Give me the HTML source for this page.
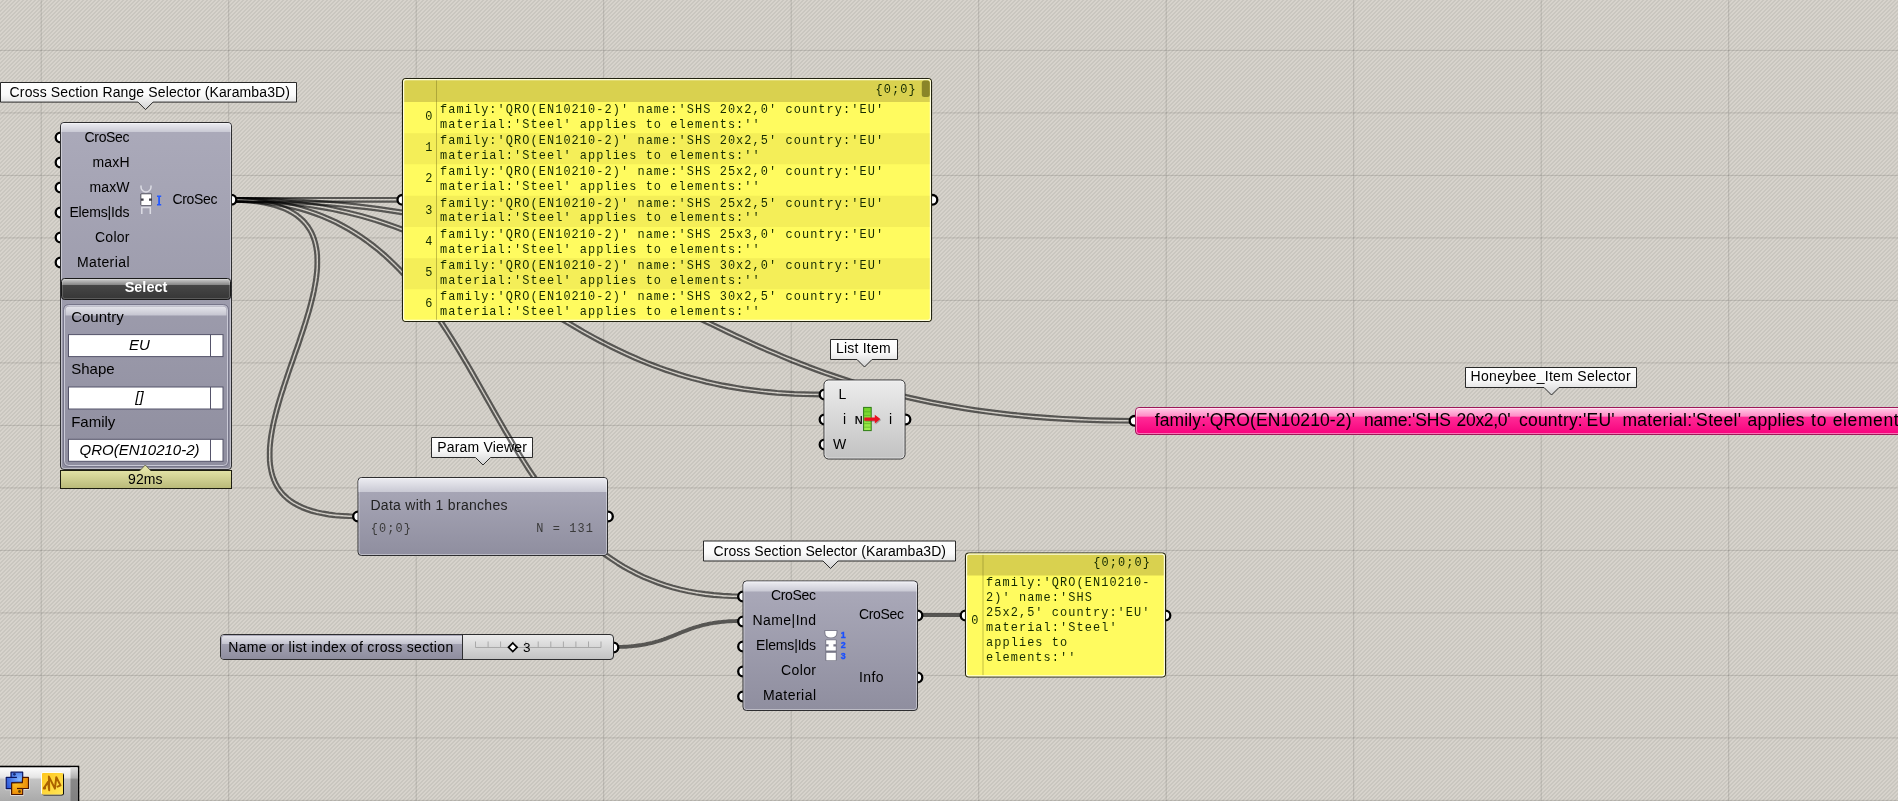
<!DOCTYPE html>
<html><head><meta charset="utf-8"><title>Grasshopper canvas</title>
<style>html,body{margin:0;padding:0;background:#d4d0c8;overflow:hidden}svg{display:block;will-change:transform}text{white-space:pre}</style>
</head><body>
<svg width="1898" height="801" viewBox="0 0 1898 801">
<defs>
<pattern id="hatch" width="4" height="4" patternUnits="userSpaceOnUse">
<rect width="4" height="4" fill="#d7d3cc"/>
<g fill="#c9c6bf" shape-rendering="crispEdges">
<rect x="2" y="0" width="2" height="1"/><rect x="1" y="1" width="2" height="1"/><rect x="0" y="2" width="2" height="1"/><rect x="3" y="3" width="1" height="1"/><rect x="0" y="3" width="1" height="1"/>
</g></pattern>
<linearGradient id="gLabel" x1="0" y1="0" x2="0" y2="1"><stop offset="0" stop-color="#fff"/><stop offset="0.45" stop-color="#fafafa"/><stop offset="1" stop-color="#d2d2d2"/></linearGradient>
<linearGradient id="gBlue" x1="0" y1="0" x2="0" y2="1"><stop offset="0" stop-color="#abaaba"/><stop offset="1" stop-color="#8f8e9f"/></linearGradient>
<linearGradient id="gBand" x1="0" y1="0" x2="0" y2="1"><stop offset="0" stop-color="#ededf2"/><stop offset="1" stop-color="#c9c9d4"/></linearGradient>
<linearGradient id="gGrey" x1="0" y1="0" x2="0" y2="1"><stop offset="0" stop-color="#ececec"/><stop offset="1" stop-color="#c2c2c2"/></linearGradient>
<linearGradient id="gDark" x1="0" y1="0" x2="0" y2="1"><stop offset="0" stop-color="#d4d4d4"/><stop offset="0.29" stop-color="#8a8a8a"/><stop offset="0.32" stop-color="#464646"/><stop offset="1" stop-color="#363636"/></linearGradient>
<linearGradient id="gPink" x1="0" y1="0" x2="0" y2="1"><stop offset="0" stop-color="#ffd0e8"/><stop offset="0.32" stop-color="#ff8cc6"/><stop offset="0.36" stop-color="#ff2a96"/><stop offset="1" stop-color="#f7007c"/></linearGradient>
<linearGradient id="gGreen" x1="0" y1="0" x2="0" y2="1"><stop offset="0" stop-color="#6fd026"/><stop offset="1" stop-color="#a2ee4e"/></linearGradient>
<radialGradient id="gPyB" cx="0.8" cy="0.45" r="0.9"><stop offset="0" stop-color="#82b6ff"/><stop offset="1" stop-color="#2550d6"/></radialGradient>
<radialGradient id="gPyO" cx="0.25" cy="0.3" r="0.9"><stop offset="0" stop-color="#ffc524"/><stop offset="1" stop-color="#e67c00"/></radialGradient>
<linearGradient id="gSk" x1="0" y1="0" x2="1" y2="1"><stop offset="0" stop-color="#ffc61c"/><stop offset="1" stop-color="#ffe75a"/></linearGradient>
<linearGradient id="gProf" x1="0" y1="0" x2="0" y2="1"><stop offset="0" stop-color="#e2e2a6"/><stop offset="1" stop-color="#b9b978"/></linearGradient>
<linearGradient id="gTool" x1="0" y1="0" x2="0" y2="1"><stop offset="0" stop-color="#fff"/><stop offset="0.3" stop-color="#e6e6e6"/><stop offset="0.36" stop-color="#c4c4c4"/><stop offset="1" stop-color="#a8a8a8"/></linearGradient>
<linearGradient id="gTool2" x1="0" y1="0" x2="0" y2="1"><stop offset="0" stop-color="#e0e0e0"/><stop offset="0.3" stop-color="#b0b0b0"/><stop offset="0.36" stop-color="#888"/><stop offset="1" stop-color="#808080"/></linearGradient>
</defs>
<rect width="1898" height="801" fill="url(#hatch)"/>

<g fill="#000" fill-opacity="0.13"><rect x="40.70" y="0" width="1" height="801"/><rect x="228.20" y="0" width="1" height="801"/><rect x="415.70" y="0" width="1" height="801"/><rect x="603.20" y="0" width="1" height="801"/><rect x="790.70" y="0" width="1" height="801"/><rect x="978.20" y="0" width="1" height="801"/><rect x="1165.70" y="0" width="1" height="801"/><rect x="1353.20" y="0" width="1" height="801"/><rect x="1540.70" y="0" width="1" height="801"/><rect x="1728.20" y="0" width="1" height="801"/><rect x="0" y="49.90" width="1898" height="1"/><rect x="0" y="112.40" width="1898" height="1"/><rect x="0" y="174.90" width="1898" height="1"/><rect x="0" y="237.40" width="1898" height="1"/><rect x="0" y="299.90" width="1898" height="1"/><rect x="0" y="362.40" width="1898" height="1"/><rect x="0" y="424.90" width="1898" height="1"/><rect x="0" y="487.40" width="1898" height="1"/><rect x="0" y="549.90" width="1898" height="1"/><rect x="0" y="612.40" width="1898" height="1"/><rect x="0" y="674.90" width="1898" height="1"/><rect x="0" y="737.40" width="1898" height="1"/><rect x="0" y="799.90" width="1898" height="1"/></g>
<path d="M0.5 82.5H296.5V102.1H153.0L145.5 109.6L138.0 102.1H0.5Z" fill="url(#gLabel)" stroke="#2a2a2a" stroke-width="1"/>
<text x="9.6" y="96.7" font-size="14" text-anchor="start" fill="#000" font-family="Liberation Sans, sans-serif" textLength="280.4" lengthAdjust="spacing" >Cross Section Range Selector (Karamba3D)</text>
<path d="M830.5 339.5H897.5V359.5H872.0L864.5 367L857.0 359.5H830.5Z" fill="url(#gLabel)" stroke="#2a2a2a" stroke-width="1"/>
<text x="836" y="353.3" font-size="14" text-anchor="start" fill="#000" font-family="Liberation Sans, sans-serif" textLength="54.6" lengthAdjust="spacing" >List Item</text>
<path d="M1465.5 367.5H1636.5V387.5H1559.0L1551.5 395L1544.0 387.5H1465.5Z" fill="url(#gLabel)" stroke="#2a2a2a" stroke-width="1"/>
<text x="1470.6" y="380.9" font-size="14" text-anchor="start" fill="#000" font-family="Liberation Sans, sans-serif" textLength="160.0" lengthAdjust="spacing" >Honeybee_Item Selector</text>
<path d="M431.5 437.5H532.5V457.5H490.5L483 465L475.5 457.5H431.5Z" fill="url(#gLabel)" stroke="#2a2a2a" stroke-width="1"/>
<text x="437.3" y="451.9" font-size="14" text-anchor="start" fill="#000" font-family="Liberation Sans, sans-serif" textLength="89.5" lengthAdjust="spacing" >Param Viewer</text>
<path d="M703.5 541.0H955.5V561.0H838.0L830.5 568.5L823.0 561.0H703.5Z" fill="url(#gLabel)" stroke="#2a2a2a" stroke-width="1"/>
<text x="713.5" y="555.6" font-size="14" text-anchor="start" fill="#000" font-family="Liberation Sans, sans-serif" textLength="232.5" lengthAdjust="spacing" >Cross Section Selector (Karamba3D)</text>
<path d="M232.0 198.0L402.0 198.0" fill="none" stroke="#000" stroke-opacity="0.58" stroke-width="2.2" stroke-linejoin="round"/>
<path d="M232.0 201.6L402.0 201.6" fill="none" stroke="#000" stroke-opacity="0.58" stroke-width="2.2" stroke-linejoin="round"/>
<path d="M232.0 198.0L241.4 198.1L250.6 198.3L259.6 198.6L268.5 199.1L277.1 199.7L285.6 200.5L294.0 201.4L302.1 202.4L310.1 203.5L318.0 204.7L325.7 206.0L333.2 207.5L340.6 209.1L347.9 210.7L355.0 212.5L362.0 214.3L368.9 216.3L375.7 218.3L382.3 220.5L388.9 222.7L395.3 225.0L401.6 227.3L407.8 229.8L413.9 232.3L420.0 234.9L425.9 237.5L431.8 240.2L437.6 243.0L443.3 245.8L448.9 248.7L454.5 251.6L460.0 254.6L465.4 257.6L470.8 260.6L476.2 263.7L481.5 266.8L486.8 269.9L492.0 273.1L497.2 276.3L502.4 279.5L507.5 282.7L512.6 285.9L517.8 289.1L522.9 292.4L528.0 295.6L533.1 298.9L538.2 302.1L543.3 305.3L548.4 308.6L553.5 311.8L558.7 315.0L563.9 318.1L569.1 321.3L574.3 324.4L579.6 327.5L584.9 330.6L590.3 333.6L595.7 336.6L601.2 339.5L606.8 342.4L612.4 345.3L618.0 348.1L623.8 350.8L629.6 353.5L635.5 356.1L641.5 358.7L647.5 361.2L653.7 363.6L660.0 366.0L666.3 368.2L672.8 370.4L679.4 372.5L686.1 374.6L692.9 376.5L699.9 378.3L706.9 380.1L714.1 381.7L721.5 383.3L729.0 384.7L736.6 386.0L744.4 387.3L752.3 388.4L760.4 389.4L768.7 390.2L777.1 391.0L785.8 391.6L794.5 392.1L803.5 392.4L812.7 392.6L822.0 392.7" fill="none" stroke="#000" stroke-opacity="0.58" stroke-width="2.2" stroke-linejoin="round"/>
<path d="M232.0 201.6L241.3 201.7L250.5 201.9L259.5 202.2L268.2 202.7L276.9 203.3L285.3 204.1L293.6 204.9L301.7 205.9L309.6 207.0L317.4 208.3L325.0 209.6L332.5 211.0L339.9 212.6L347.1 214.2L354.1 216.0L361.1 217.8L367.9 219.7L374.6 221.8L381.2 223.9L387.7 226.1L394.0 228.3L400.3 230.7L406.5 233.1L412.5 235.6L418.5 238.2L424.4 240.8L430.2 243.5L436.0 246.2L441.6 249.0L447.2 251.9L452.8 254.8L458.3 257.7L463.7 260.7L469.1 263.7L474.4 266.8L479.7 269.9L484.9 273.0L490.1 276.2L495.3 279.3L500.5 282.5L505.6 285.7L510.7 289.0L515.8 292.2L520.9 295.4L526.0 298.7L531.1 301.9L536.2 305.2L541.4 308.4L546.5 311.6L551.6 314.8L556.8 318.0L562.0 321.2L567.2 324.4L572.5 327.5L577.8 330.6L583.2 333.7L588.6 336.7L594.0 339.7L599.5 342.7L605.1 345.6L610.7 348.5L616.4 351.3L622.2 354.1L628.1 356.8L634.0 359.4L640.1 362.0L646.2 364.5L652.4 367.0L658.7 369.3L665.1 371.6L671.7 373.8L678.3 376.0L685.1 378.0L692.0 380.0L699.0 381.8L706.1 383.6L713.4 385.2L720.8 386.8L728.3 388.3L736.0 389.6L743.9 390.8L751.9 391.9L760.0 392.9L768.4 393.8L776.9 394.6L785.5 395.2L794.4 395.7L803.4 396.0L812.6 396.2L822.0 396.3" fill="none" stroke="#000" stroke-opacity="0.58" stroke-width="2.2" stroke-linejoin="round"/>
<path d="M232.0 198.0L246.9 198.1L261.4 198.3L275.7 198.7L289.6 199.3L303.2 200.0L316.6 200.8L329.6 201.8L342.4 202.9L354.9 204.2L367.1 205.6L379.0 207.1L390.7 208.8L402.2 210.5L413.4 212.4L424.4 214.4L435.2 216.5L445.8 218.7L456.1 221.0L466.2 223.4L476.2 225.9L486.0 228.5L495.6 231.2L505.0 234.0L514.2 236.8L523.3 239.8L532.3 242.8L541.1 245.8L549.8 249.0L558.3 252.2L566.7 255.4L575.0 258.7L583.3 262.1L591.4 265.5L599.4 268.9L607.3 272.4L615.2 276.0L623.0 279.5L630.7 283.1L638.4 286.7L646.0 290.3L653.6 294.0L661.2 297.6L668.7 301.3L676.3 305.0L683.8 308.7L691.3 312.4L698.8 316.0L706.4 319.7L713.9 323.4L721.5 327.0L729.1 330.6L736.8 334.2L744.5 337.8L752.3 341.4L760.1 344.9L768.0 348.4L776.0 351.8L784.1 355.2L792.3 358.5L800.6 361.8L809.0 365.1L817.5 368.2L826.1 371.4L834.9 374.4L843.8 377.4L852.8 380.3L862.1 383.2L871.4 385.9L881.0 388.6L890.7 391.2L900.6 393.7L910.7 396.1L921.0 398.4L931.5 400.6L942.2 402.7L953.2 404.6L964.4 406.5L975.8 408.3L987.4 409.9L999.3 411.4L1011.5 412.8L1024.0 414.1L1036.7 415.2L1049.7 416.2L1063.0 417.0L1076.5 417.7L1090.4 418.3L1104.6 418.7L1119.2 418.9L1134.0 419.0" fill="none" stroke="#000" stroke-opacity="0.58" stroke-width="2.2" stroke-linejoin="round"/>
<path d="M232.0 201.6L246.8 201.7L261.4 201.9L275.6 202.3L289.5 202.9L303.0 203.6L316.3 204.4L329.3 205.4L342.0 206.5L354.5 207.8L366.7 209.2L378.6 210.7L390.2 212.3L401.6 214.1L412.8 216.0L423.8 217.9L434.5 220.0L445.0 222.2L455.3 224.5L465.4 226.9L475.3 229.4L485.0 232.0L494.6 234.7L503.9 237.4L513.2 240.3L522.2 243.2L531.1 246.2L539.9 249.2L548.5 252.4L557.0 255.5L565.4 258.8L573.7 262.1L581.9 265.4L590.0 268.8L598.0 272.2L605.9 275.7L613.7 279.2L621.5 282.8L629.2 286.4L636.9 290.0L644.5 293.6L652.1 297.2L659.6 300.9L667.2 304.6L674.7 308.2L682.2 311.9L689.7 315.6L697.3 319.3L704.8 323.0L712.4 326.6L720.0 330.3L727.6 333.9L735.3 337.5L743.0 341.1L750.8 344.6L758.7 348.2L766.6 351.7L774.6 355.1L782.7 358.5L791.0 361.9L799.3 365.2L807.7 368.4L816.2 371.6L824.9 374.8L833.7 377.8L842.7 380.8L851.8 383.8L861.0 386.6L870.4 389.4L880.0 392.1L889.8 394.7L899.8 397.2L909.9 399.6L920.2 401.9L930.8 404.1L941.6 406.2L952.6 408.2L963.8 410.1L975.3 411.8L987.0 413.5L998.9 415.0L1011.1 416.4L1023.6 417.7L1036.4 418.8L1049.4 419.8L1062.8 420.6L1076.4 421.3L1090.3 421.9L1104.6 422.3L1119.1 422.5L1134.0 422.6" fill="none" stroke="#000" stroke-opacity="0.58" stroke-width="2.2" stroke-linejoin="round"/>
<path d="M230.0 198.0L237.7 198.1L245.1 198.5L252.0 199.0L258.5 199.8L264.6 200.9L270.4 202.1L275.8 203.5L280.8 205.2L285.5 207.0L289.8 209.1L293.8 211.3L297.5 213.7L300.8 216.3L303.9 219.1L306.6 222.1L309.1 225.2L311.2 228.5L313.1 231.9L314.7 235.5L316.0 239.2L317.1 243.0L317.9 247.0L318.6 251.0L319.0 255.2L319.1 259.5L319.1 263.8L319.0 268.3L318.6 272.8L318.1 277.4L317.4 282.1L316.5 286.9L315.6 291.8L314.5 296.7L313.3 301.6L312.0 306.6L310.6 311.7L309.1 316.8L307.5 322.0L305.9 327.1L304.2 332.3L302.4 337.6L300.7 342.8L298.9 348.1L297.0 353.4L295.2 358.6L293.4 363.9L291.5 369.2L289.7 374.4L288.0 379.7L286.2 384.9L284.6 390.1L282.9 395.2L281.4 400.3L279.9 405.4L278.5 410.4L277.2 415.4L276.0 420.3L274.9 425.1L274.0 429.8L273.2 434.5L272.5 439.1L272.0 443.6L271.6 448.0L271.5 452.4L271.5 456.6L271.6 460.7L272.0 464.6L272.6 468.5L273.4 472.2L274.4 475.8L275.7 479.3L277.1 482.6L278.9 485.8L280.9 488.8L283.1 491.7L285.7 494.4L288.5 497.0L291.6 499.5L295.1 501.7L298.9 503.8L303.0 505.8L307.4 507.5L312.3 509.1L317.5 510.5L323.0 511.7L329.0 512.7L335.4 513.5L342.2 514.0L349.4 514.4L357.0 514.5" fill="none" stroke="#000" stroke-opacity="0.58" stroke-width="2.2" stroke-linejoin="round"/>
<path d="M230.0 201.6L237.6 201.7L244.8 202.1L251.6 202.6L258.0 203.4L264.0 204.4L269.5 205.6L274.7 207.0L279.6 208.6L284.0 210.3L288.1 212.3L291.9 214.4L295.4 216.6L298.5 219.1L301.3 221.7L303.9 224.4L306.1 227.3L308.1 230.3L309.9 233.5L311.3 236.8L312.6 240.3L313.6 243.9L314.4 247.6L315.0 251.5L315.4 255.4L315.5 259.5L315.5 263.7L315.4 268.1L315.0 272.5L314.5 277.0L313.8 281.6L313.0 286.3L312.1 291.0L311.0 295.8L309.8 300.7L308.5 305.7L307.1 310.7L305.6 315.8L304.1 320.9L302.4 326.0L300.8 331.2L299.0 336.4L297.3 341.7L295.5 346.9L293.6 352.2L291.8 357.5L290.0 362.7L288.1 368.0L286.3 373.3L284.6 378.5L282.8 383.8L281.1 389.0L279.5 394.1L277.9 399.3L276.4 404.4L275.0 409.5L273.7 414.5L272.5 419.4L271.4 424.3L270.5 429.2L269.6 434.0L268.9 438.7L268.4 443.3L268.0 447.8L267.9 452.3L267.9 456.6L268.0 460.9L268.4 465.1L269.1 469.1L269.9 473.1L271.0 476.9L272.3 480.6L273.9 484.2L275.8 487.6L277.9 490.9L280.4 494.0L283.1 497.0L286.2 499.8L289.5 502.4L293.2 504.8L297.2 507.0L301.5 509.1L306.2 510.9L311.2 512.6L316.6 514.0L322.4 515.2L328.5 516.3L335.0 517.1L341.9 517.6L349.3 518.0L357.0 518.1" fill="none" stroke="#000" stroke-opacity="0.58" stroke-width="2.2" stroke-linejoin="round"/>
<path d="M232.0 198.0L241.4 198.1L250.6 198.6L259.5 199.3L268.2 200.3L276.7 201.6L285.0 203.1L293.0 204.9L300.8 206.9L308.4 209.2L315.7 211.7L322.9 214.5L329.9 217.4L336.7 220.6L343.3 224.0L349.8 227.6L356.0 231.4L362.1 235.4L368.1 239.6L373.9 243.9L379.5 248.5L385.0 253.1L390.3 258.0L395.5 263.0L400.6 268.1L405.6 273.4L410.4 278.8L415.1 284.3L419.8 289.9L424.3 295.7L428.7 301.5L433.1 307.5L437.4 313.5L441.6 319.6L445.7 325.8L449.7 332.1L453.7 338.4L457.7 344.8L461.6 351.2L465.4 357.7L469.3 364.2L473.1 370.8L476.8 377.4L480.6 384.0L484.3 390.6L488.1 397.2L491.8 403.8L495.5 410.4L499.3 417.0L503.1 423.5L506.8 430.0L510.7 436.5L514.5 443.0L518.4 449.4L522.3 455.8L526.3 462.1L530.3 468.3L534.4 474.5L538.6 480.5L542.8 486.5L547.1 492.4L551.5 498.2L556.0 503.9L560.6 509.5L565.3 515.0L570.1 520.3L575.0 525.5L580.0 530.6L585.1 535.5L590.4 540.3L595.8 544.9L601.4 549.3L607.0 553.6L612.9 557.7L618.9 561.6L625.0 565.4L631.4 568.9L637.9 572.3L644.5 575.4L651.4 578.3L658.5 581.0L665.7 583.5L673.2 585.7L680.9 587.7L688.8 589.5L696.9 591.0L705.2 592.2L713.8 593.2L722.6 593.9L731.7 594.4L741.0 594.5" fill="none" stroke="#000" stroke-opacity="0.58" stroke-width="2.2" stroke-linejoin="round"/>
<path d="M232.0 201.6L241.3 201.7L250.4 202.2L259.2 202.9L267.8 203.9L276.1 205.1L284.2 206.6L292.1 208.4L299.8 210.4L307.3 212.6L314.5 215.1L321.6 217.8L328.5 220.7L335.1 223.8L341.6 227.2L348.0 230.7L354.1 234.5L360.1 238.4L366.0 242.5L371.6 246.8L377.2 251.2L382.6 255.8L387.9 260.6L393.0 265.5L398.0 270.6L402.9 275.8L407.7 281.1L412.4 286.6L417.0 292.2L421.5 297.9L425.9 303.7L430.2 309.6L434.4 315.6L438.6 321.6L442.7 327.8L446.7 334.0L450.7 340.3L454.6 346.7L458.5 353.1L462.3 359.6L466.2 366.1L469.9 372.6L473.7 379.1L477.5 385.7L481.2 392.3L484.9 398.9L488.7 405.5L492.4 412.1L496.2 418.7L499.9 425.3L503.7 431.9L507.6 438.4L511.4 444.9L515.3 451.3L519.3 457.7L523.3 464.0L527.3 470.3L531.4 476.5L535.6 482.6L539.9 488.6L544.3 494.6L548.7 500.4L553.2 506.2L557.9 511.8L562.6 517.3L567.4 522.7L572.4 528.0L577.5 533.1L582.7 538.1L588.0 543.0L593.5 547.6L599.1 552.2L604.9 556.5L610.9 560.7L617.0 564.7L623.2 568.5L629.7 572.1L636.3 575.5L643.1 578.7L650.1 581.6L657.3 584.4L664.6 586.9L672.2 589.2L680.0 591.2L688.0 593.0L696.3 594.5L704.8 595.8L713.5 596.8L722.4 597.5L731.6 598.0L741.0 598.1" fill="none" stroke="#000" stroke-opacity="0.58" stroke-width="2.2" stroke-linejoin="round"/>
<path d="M614.0 647.0L616.1 647.0L618.1 647.0L620.1 646.9L622.1 646.9L624.0 646.8L625.9 646.7L627.7 646.6L629.5 646.4L631.3 646.3L633.0 646.1L634.7 645.9L636.3 645.7L637.9 645.5L639.5 645.3L641.0 645.1L642.6 644.8L644.0 644.6L645.5 644.3L646.9 644.0L648.3 643.7L649.7 643.4L651.0 643.1L652.4 642.8L653.7 642.4L654.9 642.1L656.2 641.7L657.4 641.4L658.7 641.0L659.9 640.6L661.0 640.3L662.2 639.9L663.4 639.5L664.5 639.1L665.6 638.7L666.7 638.3L667.8 637.8L668.9 637.4L670.0 637.0L671.1 636.6L672.2 636.2L673.3 635.7L674.3 635.3L675.4 634.9L676.4 634.4L677.5 634.0L678.6 633.6L679.6 633.1L680.7 632.7L681.7 632.3L682.8 631.8L683.9 631.4L685.0 631.0L686.1 630.6L687.2 630.2L688.3 629.7L689.4 629.3L690.5 628.9L691.6 628.5L692.8 628.1L694.0 627.7L695.1 627.4L696.3 627.0L697.6 626.6L698.8 626.3L700.1 625.9L701.3 625.6L702.6 625.2L704.0 624.9L705.3 624.6L706.7 624.3L708.1 624.0L709.5 623.7L711.0 623.4L712.4 623.2L714.0 622.9L715.5 622.7L717.1 622.5L718.7 622.3L720.3 622.1L722.0 621.9L723.7 621.7L725.5 621.6L727.3 621.4L729.1 621.3L731.0 621.2L732.9 621.1L734.9 621.1L736.9 621.0L738.9 621.0L741.0 621.0" fill="none" stroke="#000" stroke-opacity="0.58" stroke-width="3.9" stroke-linejoin="round"/>
<path d="M919.0 615.0L965.0 615.0" fill="none" stroke="#000" stroke-opacity="0.58" stroke-width="3.9" stroke-linejoin="round"/>
<circle cx="60.5" cy="137.5" r="4.8" fill="#fff" stroke="#000" stroke-width="2.3"/>
<circle cx="60.5" cy="162.5" r="4.8" fill="#fff" stroke="#000" stroke-width="2.3"/>
<circle cx="60.5" cy="187.5" r="4.8" fill="#fff" stroke="#000" stroke-width="2.3"/>
<circle cx="60.5" cy="212.5" r="4.8" fill="#fff" stroke="#000" stroke-width="2.3"/>
<circle cx="60.5" cy="237.5" r="4.8" fill="#fff" stroke="#000" stroke-width="2.3"/>
<circle cx="60.5" cy="262.5" r="4.8" fill="#fff" stroke="#000" stroke-width="2.3"/>
<circle cx="231.5" cy="199.7" r="4.8" fill="#fff" stroke="#000" stroke-width="2.3"/>
<circle cx="402.3" cy="199.8" r="4.8" fill="#fff" stroke="#000" stroke-width="2.3"/>
<circle cx="932.5" cy="199.8" r="4.8" fill="#fff" stroke="#000" stroke-width="2.3"/>
<circle cx="824.5" cy="394.5" r="4.8" fill="#fff" stroke="#000" stroke-width="2.3"/>
<circle cx="824.5" cy="419.5" r="4.8" fill="#fff" stroke="#000" stroke-width="2.3"/>
<circle cx="824.5" cy="444.5" r="4.8" fill="#fff" stroke="#000" stroke-width="2.3"/>
<circle cx="905.5" cy="419.5" r="4.8" fill="#fff" stroke="#000" stroke-width="2.3"/>
<circle cx="1134.5" cy="420.8" r="4.8" fill="#fff" stroke="#000" stroke-width="2.3"/>
<circle cx="358" cy="516.5" r="4.8" fill="#fff" stroke="#000" stroke-width="2.3"/>
<circle cx="608" cy="516.5" r="4.8" fill="#fff" stroke="#000" stroke-width="2.3"/>
<circle cx="613.5" cy="647.5" r="4.8" fill="#fff" stroke="#000" stroke-width="2.3"/>
<circle cx="743" cy="596.5" r="4.8" fill="#fff" stroke="#000" stroke-width="2.3"/>
<circle cx="743" cy="621.5" r="4.8" fill="#fff" stroke="#000" stroke-width="2.3"/>
<circle cx="743" cy="646.5" r="4.8" fill="#fff" stroke="#000" stroke-width="2.3"/>
<circle cx="743" cy="671.5" r="4.8" fill="#fff" stroke="#000" stroke-width="2.3"/>
<circle cx="743" cy="696.5" r="4.8" fill="#fff" stroke="#000" stroke-width="2.3"/>
<circle cx="917.5" cy="615.5" r="4.8" fill="#fff" stroke="#000" stroke-width="2.3"/>
<circle cx="917.5" cy="677.5" r="4.8" fill="#fff" stroke="#000" stroke-width="2.3"/>
<circle cx="965.5" cy="615.5" r="4.8" fill="#fff" stroke="#000" stroke-width="2.3"/>
<circle cx="1165.5" cy="615.5" r="4.8" fill="#fff" stroke="#000" stroke-width="2.3"/>
<rect x="60.5" y="122.5" width="171" height="347" rx="3.5" fill="url(#gBlue)" stroke="#2e2e30" stroke-width="1"/>
<path d="M61 126.5Q61 123 64.5 123H227.5Q231 123 231 126.5V132H61Z" fill="url(#gBand)"/>
<rect x="61.5" y="123.5" width="169" height="345" rx="2.5" fill="none" stroke="#fff" stroke-opacity="0.4" stroke-width="1"/>
<text x="84.6" y="141.8" font-size="14" text-anchor="start" fill="#000" font-family="Liberation Sans, sans-serif" textLength="44.9" lengthAdjust="spacing" >CroSec</text>
<text x="92.5" y="166.8" font-size="14" text-anchor="start" fill="#000" font-family="Liberation Sans, sans-serif" textLength="37.0" lengthAdjust="spacing" >maxH</text>
<text x="89.4" y="191.8" font-size="14" text-anchor="start" fill="#000" font-family="Liberation Sans, sans-serif" textLength="40.1" lengthAdjust="spacing" >maxW</text>
<text x="69.4" y="216.8" font-size="14" text-anchor="start" fill="#000" font-family="Liberation Sans, sans-serif" textLength="60.1" lengthAdjust="spacing" >Elems|Ids</text>
<text x="95" y="241.8" font-size="14" text-anchor="start" fill="#000" font-family="Liberation Sans, sans-serif" textLength="34.5" lengthAdjust="spacing" >Color</text>
<text x="76.9" y="266.8" font-size="14" text-anchor="start" fill="#000" font-family="Liberation Sans, sans-serif" textLength="52.6" lengthAdjust="spacing" >Material</text>
<text x="172.5" y="204.3" font-size="14" text-anchor="start" fill="#000" font-family="Liberation Sans, sans-serif" textLength="45" lengthAdjust="spacing" >CroSec</text>
<g fill="none" stroke="#dcdce4" stroke-width="1.5"><path d="M141 185.5v1.5a5 5 0 0 0 10 0v-1.5"/><path d="M141.800 214v-6.500h8.500v6.500"/></g>
<rect x="140.500" y="193.500" width="11.5" height="12" rx="1" fill="#2c2c34" fill-opacity="0.85"/>
<path d="M141.300 194.300h10v4.200h-2.300v2.200h2.300v4.300h-10v-4.300h2.300v-2.200h-2.300z" fill="#fff"/>
<path d="M157 195.500h4.200v1.500h-1.200v7h1.200v1.500h-4.200v-1.500h1.200v-7h-1.200z" fill="#2459ff"/>
<rect x="61.5" y="278.5" width="169" height="21" rx="3" fill="url(#gDark)" stroke="#1a1a1a"/>
<rect x="62.500" y="279.500" width="167" height="19" rx="2" fill="none" stroke="#fff" stroke-opacity="0.18"/>
<text x="146" y="292.2" font-size="14.5" text-anchor="middle" fill="#fff" font-family="Liberation Sans, sans-serif" font-weight="bold">Select</text>
<rect x="64.5" y="305.5" width="163" height="160" rx="4" fill="none" stroke="#c9c9d6" stroke-width="1"/>
<path d="M65.5 310Q65.5 306.5 69 306.5H223Q226.500 306.5 226.5 310V315.500H65.5Z" fill="url(#gBand)" fill-opacity="0.9"/>
<rect x="63.5" y="304.5" width="165" height="162" rx="5" fill="none" stroke="#77768a" stroke-width="1"/>
<text x="71.2" y="322.0" font-size="15" text-anchor="start" fill="#000" font-family="Liberation Sans, sans-serif" >Country</text>
<rect x="68.5" y="334.6" width="154.5" height="22" fill="#fff" stroke="#55546a" stroke-width="1"/>
<path d="M210.5 334.6v22" stroke="#55546a"/>
<text x="139.5" y="349.8" font-size="15" text-anchor="middle" fill="#000" font-family="Liberation Sans, sans-serif" font-style="italic">EU</text>
<text x="71.2" y="374.4" font-size="15" text-anchor="start" fill="#000" font-family="Liberation Sans, sans-serif" >Shape</text>
<rect x="68.5" y="387.0" width="154.5" height="22" fill="#fff" stroke="#55546a" stroke-width="1"/>
<path d="M210.5 387.0v22" stroke="#55546a"/>
<text x="139.5" y="402.2" font-size="15" text-anchor="middle" fill="#000" font-family="Liberation Sans, sans-serif" font-style="italic">[]</text>
<text x="71.2" y="426.8" font-size="15" text-anchor="start" fill="#000" font-family="Liberation Sans, sans-serif" >Family</text>
<rect x="68.5" y="439.3" width="154.5" height="22" fill="#fff" stroke="#55546a" stroke-width="1"/>
<path d="M210.5 439.3v22" stroke="#55546a"/>
<text x="139.5" y="454.5" font-size="15" text-anchor="middle" fill="#000" font-family="Liberation Sans, sans-serif" font-style="italic">QRO(EN10210-2)</text>
<rect x="60.5" y="470.5" width="171" height="18" fill="url(#gProf)" stroke="#1d1d10"/>
<path d="M139.500 471L145.300 465L151 471Z" fill="#e2e2a6"/><path d="M139.500 471L145.300 465L151 471" fill="none" stroke="#55553a" stroke-width="0.8"/>
<text x="128" y="483.9" font-size="14" text-anchor="start" fill="#000" font-family="Liberation Sans, sans-serif" textLength="34.5" lengthAdjust="spacing" >92ms</text>
<rect x="402.5" y="78.5" width="529" height="243" rx="3.5" fill="#fffb5f" stroke="#222210" stroke-width="1.15"/>
<clipPath id="cp1"><rect x="403.500" y="79.500" width="527" height="241" rx="2.5"/></clipPath><g clip-path="url(#cp1)">
<rect x="403" y="79" width="528" height="23" fill="#d9d14f"/>
<rect x="403" y="102.00" width="528" height="31.3" fill="#fffb5f"/>
<rect x="403" y="133.25" width="528" height="31.3" fill="#f4ee58"/>
<rect x="403" y="164.50" width="528" height="31.3" fill="#fffb5f"/>
<rect x="403" y="195.75" width="528" height="31.3" fill="#f4ee58"/>
<rect x="403" y="227.00" width="528" height="31.3" fill="#fffb5f"/>
<rect x="403" y="258.25" width="528" height="31.3" fill="#f4ee58"/>
<rect x="403" y="289.50" width="528" height="31.3" fill="#fffb5f"/>
<rect x="436" y="79" width="1" height="243" fill="#7a7420" fill-opacity="0.45"/>
</g>
<rect x="403.6" y="79.6" width="526.8" height="240.8" rx="2.4" fill="none" stroke="#ffffe6" stroke-opacity="0.95" stroke-width="1.2"/>
<rect x="921.8" y="80.4" width="8" height="16.5" rx="2.5" fill="#8a8528"/>
<text x="875.5" y="93.2" font-size="11.9" text-anchor="start" fill="#152b00" font-family="Liberation Mono, monospace" letter-spacing="1.09">{0;0}</text>
<text x="433.39" y="119.9" font-size="11.9" text-anchor="end" fill="#152b00" font-family="Liberation Mono, monospace" letter-spacing="1.09">0</text>
<text x="440" y="112.9" font-size="11.9" text-anchor="start" fill="#152b00" font-family="Liberation Mono, monospace" letter-spacing="1.09">family:'QRO(EN10210-2)' name:'SHS 20x2,0' country:'EU'</text>
<text x="440" y="127.7" font-size="11.9" text-anchor="start" fill="#152b00" font-family="Liberation Mono, monospace" letter-spacing="1.09">material:'Steel' applies to elements:''</text>
<text x="433.39" y="151.2" font-size="11.9" text-anchor="end" fill="#152b00" font-family="Liberation Mono, monospace" letter-spacing="1.09">1</text>
<text x="440" y="144.2" font-size="11.9" text-anchor="start" fill="#152b00" font-family="Liberation Mono, monospace" letter-spacing="1.09">family:'QRO(EN10210-2)' name:'SHS 20x2,5' country:'EU'</text>
<text x="440" y="158.9" font-size="11.9" text-anchor="start" fill="#152b00" font-family="Liberation Mono, monospace" letter-spacing="1.09">material:'Steel' applies to elements:''</text>
<text x="433.39" y="182.4" font-size="11.9" text-anchor="end" fill="#152b00" font-family="Liberation Mono, monospace" letter-spacing="1.09">2</text>
<text x="440" y="175.4" font-size="11.9" text-anchor="start" fill="#152b00" font-family="Liberation Mono, monospace" letter-spacing="1.09">family:'QRO(EN10210-2)' name:'SHS 25x2,0' country:'EU'</text>
<text x="440" y="190.2" font-size="11.9" text-anchor="start" fill="#152b00" font-family="Liberation Mono, monospace" letter-spacing="1.09">material:'Steel' applies to elements:''</text>
<text x="433.39" y="213.7" font-size="11.9" text-anchor="end" fill="#152b00" font-family="Liberation Mono, monospace" letter-spacing="1.09">3</text>
<text x="440" y="206.7" font-size="11.9" text-anchor="start" fill="#152b00" font-family="Liberation Mono, monospace" letter-spacing="1.09">family:'QRO(EN10210-2)' name:'SHS 25x2,5' country:'EU'</text>
<text x="440" y="221.4" font-size="11.9" text-anchor="start" fill="#152b00" font-family="Liberation Mono, monospace" letter-spacing="1.09">material:'Steel' applies to elements:''</text>
<text x="433.39" y="244.9" font-size="11.9" text-anchor="end" fill="#152b00" font-family="Liberation Mono, monospace" letter-spacing="1.09">4</text>
<text x="440" y="237.9" font-size="11.9" text-anchor="start" fill="#152b00" font-family="Liberation Mono, monospace" letter-spacing="1.09">family:'QRO(EN10210-2)' name:'SHS 25x3,0' country:'EU'</text>
<text x="440" y="252.7" font-size="11.9" text-anchor="start" fill="#152b00" font-family="Liberation Mono, monospace" letter-spacing="1.09">material:'Steel' applies to elements:''</text>
<text x="433.39" y="276.1" font-size="11.9" text-anchor="end" fill="#152b00" font-family="Liberation Mono, monospace" letter-spacing="1.09">5</text>
<text x="440" y="269.1" font-size="11.9" text-anchor="start" fill="#152b00" font-family="Liberation Mono, monospace" letter-spacing="1.09">family:'QRO(EN10210-2)' name:'SHS 30x2,0' country:'EU'</text>
<text x="440" y="283.9" font-size="11.9" text-anchor="start" fill="#152b00" font-family="Liberation Mono, monospace" letter-spacing="1.09">material:'Steel' applies to elements:''</text>
<text x="433.39" y="307.4" font-size="11.9" text-anchor="end" fill="#152b00" font-family="Liberation Mono, monospace" letter-spacing="1.09">6</text>
<text x="440" y="300.4" font-size="11.9" text-anchor="start" fill="#152b00" font-family="Liberation Mono, monospace" letter-spacing="1.09">family:'QRO(EN10210-2)' name:'SHS 30x2,5' country:'EU'</text>
<text x="440" y="315.2" font-size="11.9" text-anchor="start" fill="#152b00" font-family="Liberation Mono, monospace" letter-spacing="1.09">material:'Steel' applies to elements:''</text>
<rect x="824.0" y="380.0" width="81.0" height="79.0" rx="4.5" fill="url(#gGrey)" stroke="#2e2e30" stroke-width="1"/>
<rect x="825.0" y="381.0" width="79.0" height="77.0" rx="3.5" fill="none" stroke="#fff" stroke-opacity="0.4" stroke-width="1"/>
<text x="846.3" y="399.4" font-size="14" text-anchor="end" fill="#000" font-family="Liberation Sans, sans-serif" >L</text>
<text x="846" y="424.4" font-size="14" text-anchor="end" fill="#000" font-family="Liberation Sans, sans-serif" >i</text>
<text x="846.3" y="449.4" font-size="14" text-anchor="end" fill="#000" font-family="Liberation Sans, sans-serif" >W</text>
<text x="889" y="424.4" font-size="14" text-anchor="start" fill="#000" font-family="Liberation Sans, sans-serif" >i</text>
<rect x="863.600" y="407.400" width="7.6" height="23.2" fill="url(#gGreen)" stroke="#2d7d14" stroke-width="1"/>
<path d="M864.2 411.8h6.400M864.2 415.400h6.400M864.2 423.600h6.400M864.2 427.200h6.400" stroke="#3f9c18" stroke-opacity="0.7" stroke-width="0.7"/>
<path d="M864.6 417.600h10.300v-2.800l5.500 4.400-5.500 4.400v-2.800h-10.300z" fill="#3a3a3a" fill-opacity="0.35" transform="translate(0.8,0.9)"/>
<path d="M864.3 417.500h10.500v-2.800l5.500 4.400-5.500 4.400v-2.800h-10.500z" fill="#ea1020"/>
<text x="854.8" y="424" font-size="11" text-anchor="start" fill="#111" font-family="Liberation Sans, sans-serif" font-weight="bold">N</text>
<rect x="1135.500" y="407.500" width="780" height="27" rx="3.5" fill="url(#gPink)" stroke="#9c1858" stroke-width="1"/>
<rect x="1136.500" y="408.500" width="778" height="25" rx="2.5" fill="none" stroke="#fff" stroke-opacity="0.45"/>
<text x="1154.7" y="426" font-size="17.5" text-anchor="start" fill="#000" font-family="Liberation Sans, sans-serif" textLength="200.3" lengthAdjust="spacing" >family:'QRO(EN10210-2)'</text>
<text x="1364" y="426" font-size="17.5" text-anchor="start" fill="#000" font-family="Liberation Sans, sans-serif" textLength="87" lengthAdjust="spacing" >name:'SHS</text>
<text x="1456.6" y="426" font-size="17.5" text-anchor="start" fill="#000" font-family="Liberation Sans, sans-serif" textLength="54.0" lengthAdjust="spacing" >20x2,0'</text>
<text x="1519" y="426" font-size="17.5" text-anchor="start" fill="#000" font-family="Liberation Sans, sans-serif" textLength="95.6" lengthAdjust="spacing" >country:'EU'</text>
<text x="1622.4" y="426" font-size="17.5" text-anchor="start" fill="#000" font-family="Liberation Sans, sans-serif" textLength="118.6" lengthAdjust="spacing" >material:'Steel'</text>
<text x="1747.6" y="426" font-size="17.5" text-anchor="start" fill="#000" font-family="Liberation Sans, sans-serif" textLength="57.0" lengthAdjust="spacing" >applies</text>
<text x="1811.1" y="426" font-size="17.5" text-anchor="start" fill="#000" font-family="Liberation Sans, sans-serif" textLength="15.3" lengthAdjust="spacing" >to</text>
<text x="1832.8" y="426" font-size="17.5" text-anchor="start" fill="#000" font-family="Liberation Sans, sans-serif" textLength="65.8" lengthAdjust="spacing" >element</text>
<rect x="358.0" y="477.5" width="249.5" height="78" rx="3.5" fill="url(#gBlue)" stroke="#2e2e30" stroke-width="1"/>
<path d="M358.5 481.5Q358.5 478 362.0 478H603.5Q607 478 607 481.5V492H358.5Z" fill="url(#gBand)"/>
<rect x="359.0" y="478.5" width="247.5" height="76" rx="2.5" fill="none" stroke="#fff" stroke-opacity="0.4" stroke-width="1"/>
<text x="370.4" y="510.1" font-size="14" text-anchor="start" fill="#222" font-family="Liberation Sans, sans-serif" textLength="137.1" lengthAdjust="spacing" >Data with 1 branches</text>
<text x="370.8" y="532" font-size="11.9" text-anchor="start" fill="#3a3a3a" font-family="Liberation Mono, monospace" letter-spacing="1.09">{0;0}</text>
<text x="593.89" y="532" font-size="11.9" text-anchor="end" fill="#3a3a3a" font-family="Liberation Mono, monospace" letter-spacing="1.09">N = 131</text>
<rect x="220.500" y="634.500" width="393" height="25" rx="3.5" fill="url(#gGrey)" stroke="#2e2e30"/>
<path d="M462.5 635H224Q221 635 221 638V656Q221 659 224 659H462.5Z" fill="url(#gBlue)"/>
<path d="M462.5 636H224Q222 636 222 638V644H462.5Z" fill="url(#gBand)" fill-opacity="0.85"/>
<path d="M462.5 635v24" stroke="#2e2e30"/>
<text x="228.2" y="652" font-size="14" text-anchor="start" fill="#000" font-family="Liberation Sans, sans-serif" textLength="225" lengthAdjust="spacing" >Name or list index of cross section</text>
<path d="M475.500 647.5H601M475.5 641.5v6M488.1 641.5v6M500.6 641.5v6M513.1 641.5v6M525.7 641.5v6M538.2 641.5v6M550.8 641.5v6M563.4 641.5v6M575.9 641.5v6M588.5 641.5v6M601.0 641.5v6" stroke="#a9a9a9" stroke-width="1" fill="none"/>
<path d="M512.8 643l4.300 4.300-4.300 4.300-4.300-4.300z" fill="#fff" stroke="#000" stroke-width="1.7"/>
<text x="523" y="651.8" font-size="13.5" text-anchor="start" fill="#000" font-family="Liberation Sans, sans-serif" >3</text>
<rect x="743.0" y="581.0" width="174.5" height="129.5" rx="3.5" fill="url(#gBlue)" stroke="#2e2e30" stroke-width="1"/>
<path d="M743.5 585.0Q743.5 581.5 747.0 581.5H913.5Q917 581.5 917 585.0V591.5H743.5Z" fill="url(#gBand)"/>
<rect x="744.0" y="582.0" width="172.5" height="127.5" rx="2.5" fill="none" stroke="#fff" stroke-opacity="0.4" stroke-width="1"/>
<text x="771" y="600.2" font-size="14" text-anchor="start" fill="#000" font-family="Liberation Sans, sans-serif" textLength="45" lengthAdjust="spacing" >CroSec</text>
<text x="752.5" y="625.2" font-size="14" text-anchor="start" fill="#000" font-family="Liberation Sans, sans-serif" textLength="63.5" lengthAdjust="spacing" >Name|Ind</text>
<text x="756" y="650.2" font-size="14" text-anchor="start" fill="#000" font-family="Liberation Sans, sans-serif" textLength="60" lengthAdjust="spacing" >Elems|Ids</text>
<text x="781" y="675.2" font-size="14" text-anchor="start" fill="#000" font-family="Liberation Sans, sans-serif" textLength="35" lengthAdjust="spacing" >Color</text>
<text x="763" y="700.2" font-size="14" text-anchor="start" fill="#000" font-family="Liberation Sans, sans-serif" textLength="53" lengthAdjust="spacing" >Material</text>
<text x="859" y="619.3" font-size="14" text-anchor="start" fill="#000" font-family="Liberation Sans, sans-serif" textLength="45" lengthAdjust="spacing" >CroSec</text>
<text x="859" y="681.5" font-size="14" text-anchor="start" fill="#000" font-family="Liberation Sans, sans-serif" textLength="24.5" lengthAdjust="spacing" >Info</text>
<g fill="#4a4a58" fill-opacity="0.45"><path d="M824.300 630.300h13.200v2q0 6-6.600 6t-6.600-6z"/><rect x="825.300" y="639.500" width="11.400" height="21.500" rx="1"/></g>
<path d="M825.300 631h11.200v1.500q0 5-5.600 5t-5.600-5z" fill="#fff"/>
<path d="M826.200 640.300h9.600v4h-2.400v2.200h2.400v4h-9.600v-4h2.400v-2.200h-2.400z" fill="#fff"/>
<rect x="826.300" y="652.800" width="9.500" height="7.500" fill="#fff"/>
<text x="840.8" y="637.6" font-size="8.8" text-anchor="start" fill="#1a50ff" font-family="Liberation Sans, sans-serif" font-weight="bold" stroke="#1a50ff" stroke-width="0.35">1</text>
<text x="840.8" y="648.1" font-size="8.8" text-anchor="start" fill="#1a50ff" font-family="Liberation Sans, sans-serif" font-weight="bold" stroke="#1a50ff" stroke-width="0.35">2</text>
<text x="840.8" y="658.6" font-size="8.8" text-anchor="start" fill="#1a50ff" font-family="Liberation Sans, sans-serif" font-weight="bold" stroke="#1a50ff" stroke-width="0.35">3</text>
<rect x="965.5" y="553.1" width="200" height="123.79999999999995" rx="3.5" fill="#fffb5f" stroke="#222210" stroke-width="1.15"/>
<clipPath id="cp2"><rect x="966.500" y="553.500" width="198" height="122" rx="2.5"/></clipPath><g clip-path="url(#cp2)">
<rect x="966" y="553" width="199" height="22.5" fill="#d9d14f"/>
<rect x="982.500" y="553" width="1" height="124" fill="#7a7420" fill-opacity="0.45"/></g>
<rect x="966.6" y="554.2" width="197.8" height="121.59999999999995" rx="2.4" fill="none" stroke="#ffffe6" stroke-opacity="0.95" stroke-width="1.2"/>
<text x="1093.3" y="566" font-size="11.9" text-anchor="start" fill="#152b00" font-family="Liberation Mono, monospace" letter-spacing="1.09">{0;0;0}</text>
<text x="979.59" y="623.5" font-size="11.9" text-anchor="end" fill="#152b00" font-family="Liberation Mono, monospace" letter-spacing="1.09">0</text>
<text x="986" y="585.7" font-size="11.9" text-anchor="start" fill="#152b00" font-family="Liberation Mono, monospace" letter-spacing="1.09">family:'QRO(EN10210-</text>
<text x="986" y="600.8" font-size="11.9" text-anchor="start" fill="#152b00" font-family="Liberation Mono, monospace" letter-spacing="1.09">2)' name:'SHS</text>
<text x="986" y="615.9" font-size="11.9" text-anchor="start" fill="#152b00" font-family="Liberation Mono, monospace" letter-spacing="1.09">25x2,5' country:'EU'</text>
<text x="986" y="631.1" font-size="11.9" text-anchor="start" fill="#152b00" font-family="Liberation Mono, monospace" letter-spacing="1.09">material:'Steel'</text>
<text x="986" y="646.2" font-size="11.9" text-anchor="start" fill="#152b00" font-family="Liberation Mono, monospace" letter-spacing="1.09">applies to</text>
<text x="986" y="661.3" font-size="11.9" text-anchor="start" fill="#152b00" font-family="Liberation Mono, monospace" letter-spacing="1.09">elements:''</text>
<rect x="-1" y="766.500" width="79.500" height="36" fill="url(#gTool)" stroke="#000" stroke-width="1.6"/>
<rect x="70.500" y="767.500" width="7.3" height="34" fill="url(#gTool2)"/>
<path d="M11 772.200H22.700V782.100L11.900 782.500L11.500 788.700H6.200V777.400H11ZM22.700 777.400H28.500V788.500H22.700V794.500H11.600V783L22.300 782.700Z" fill="#fff" stroke="#fff" stroke-opacity="0.55" stroke-width="3" stroke-linejoin="round"/>
<path d="M11 772.200H22.700V782.100L11.900 782.500L11.500 788.700H6.200V777.400H11Z" fill="url(#gPyB)" stroke="#0a1560" stroke-width="1.200" stroke-linejoin="round"/>
<path d="M22.700 777.400H28.500V788.500H22.700V794.500H11.600V783L22.300 782.700Z" fill="url(#gPyO)" stroke="#4a1603" stroke-width="1.200" stroke-linejoin="round"/>
<path d="M11 777.400H16.900" stroke="#0a1560" stroke-width="1.200"/><path d="M17 788.500H22.700" stroke="#4a1603" stroke-width="1.200"/>
<circle cx="14.400" cy="774.300" r="1.400" fill="#1a2f7a"/><circle cx="19.500" cy="791.500" r="1.400" fill="#6a4506"/>
<rect x="42" y="773" width="22" height="22.400" rx="2.200" fill="#0c0c0c"/>
<rect x="41" y="772" width="22" height="22.400" rx="2" fill="#fffdf0"/>
<rect x="42" y="773" width="21" height="21.400" rx="1" fill="url(#gSk)"/>
<circle cx="44.600" cy="788" r="1.500" fill="#a85e00"/>
<path d="M43.800 788.300L48.100 781.900L49.200 790.200L48.900 776.600L54.900 788.600L56.300 777.200L60.500 785.400L57.600 786.600" fill="none" stroke="#ab6200" stroke-width="2" stroke-linejoin="round" stroke-linecap="round"/>
</svg></body></html>
